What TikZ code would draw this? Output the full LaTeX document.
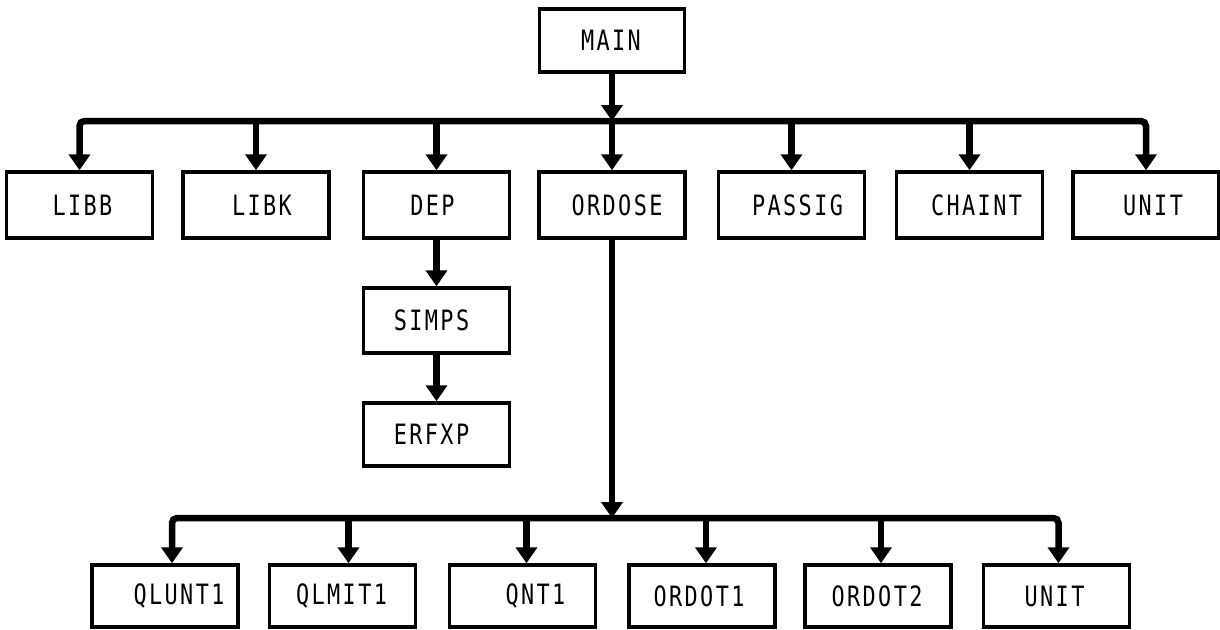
\documentclass[tikz,border=0pt]{standalone}
\usepackage{fontspec}
\newfontfamily\boxfont[FakeStretch=0.78, LetterSpace=8.6]{DejaVu Sans Mono}
\usetikzlibrary{arrows.meta}

\begin{document}
\begin{tikzpicture}[x=1pt, y=-1pt,
  box/.style={draw, line width=3.5pt, minimum width=146pt, minimum height=64pt,
    inner sep=0pt, font=\boxfont\fontsize{28}{30}\selectfont},
  % shifts the label inside its box by half the given amount
  sh/.style={execute at begin node={\hspace*{#1}}},
  arr/.style={line width=6.5pt, -{Triangle[width=21pt,length=16pt]}},
  elbow/.style={arr, rounded corners=5pt}
]
\useasboundingbox (0,0) rectangle (1220,629);

% top level
\node[box, minimum width=145pt, minimum height=63pt, sh=-2pt] (main) at (612,40.5) {MAIN};

% first level modules
\node[box, minimum height=66pt, sh=6pt]   (libb)   at (79.5,205)  {LIBB};
\node[box, minimum height=66pt, sh=12pt]  (libk)   at (256,205)   {LIBK};
\node[box, minimum height=66pt, sh=-8pt]  (dep)    at (436.5,205) {DEP};
\node[box, minimum height=66pt, sh=10pt]  (ordose) at (612,205)   {ORDOSE};
\node[box, minimum height=66pt, sh=12pt]  (passig) at (791.5,205) {PASSIG};
\node[box, minimum height=66pt, sh=14pt]  (chaint) at (969.5,205) {CHAINT};
\node[box, minimum height=66pt, sh=14pt]  (unita)  at (1146,205)  {UNIT};

% DEP chain
\node[box, minimum height=65pt, sh=-10pt] (simps) at (436.5,320.5) {SIMPS};
\node[box, minimum height=63pt, sh=-10pt] (erfxp) at (436.5,434.5) {ERFXP};

% ORDOSE modules
\node[box, minimum height=62pt, sh=28pt]  (qlunt) at (165,596)   {QLUNT1};
\node[box, minimum height=62pt, sh=-2pt]  (qlmit) at (342.5,596) {QLMIT1};
\node[box, minimum height=62pt, sh=26pt]  (qnt)   at (522.5,596) {QNT1};
\node[box, minimum height=62pt, sh=-6pt]  (ordotA) at (702,596)  {ORDOT1};
\node[box, minimum height=62pt, sh=-2pt]  (ordotB) at (878,596)  {ORDOT2};
\node[box, minimum height=62pt, sh=-4pt]  (unitb) at (1056.5,596) {UNIT};

% upper bus
\coordinate (busA) at (612,121);
\draw[arr] (main.south) -- (busA);
\draw[elbow] (busA) -| (libb.north);
\draw[elbow] (busA) -| (unita.north);
\draw[arr] (libk.north |- busA) -- (libk.north);
\draw[arr] (dep.north |- busA) -- (dep.north);
\draw[arr] (busA) -- (ordose.north);
\draw[arr] (passig.north |- busA) -- (passig.north);
\draw[arr] (chaint.north |- busA) -- (chaint.north);

% DEP calls
\draw[arr] (dep.south) -- (simps.north);
\draw[arr] (simps.south) -- (erfxp.north);

% lower bus
\coordinate (busB) at (612,518);
\draw[arr] (ordose.south) -- (busB);
\draw[elbow] (busB) -| ([xshift=7pt]qlunt.north);
\draw[elbow] (busB) -| ([xshift=2pt]unitb.north);
\draw[arr] ([xshift=6pt]qlmit.north |- busB) -- ([xshift=6pt]qlmit.north);
\draw[arr] ([xshift=4pt]qnt.north |- busB) -- ([xshift=4pt]qnt.north);
\draw[arr] ([xshift=4pt]ordotA.north |- busB) -- ([xshift=4pt]ordotA.north);
\draw[arr] ([xshift=3pt]ordotB.north |- busB) -- ([xshift=3pt]ordotB.north);
\end{tikzpicture}
\end{document}
